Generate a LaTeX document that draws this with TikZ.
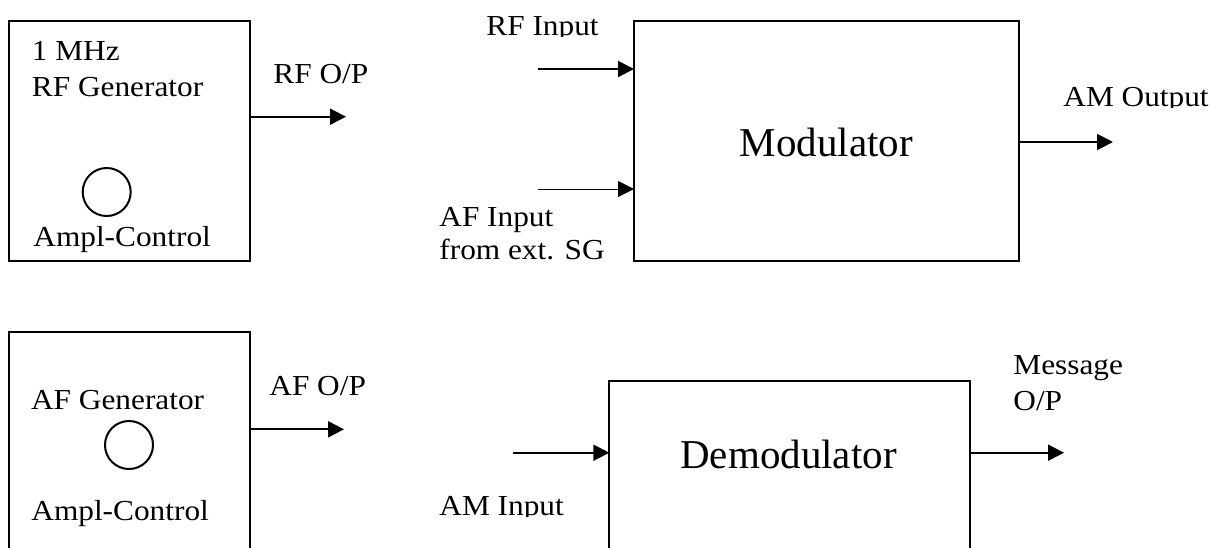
\documentclass[tikz,border=0pt]{standalone}
\usepackage{fontspec}
\setmainfont{Liberation Serif}
\newfontfamily\widefont[FakeStretch=1.08]{Liberation Serif}
\usepackage{tikz}
\usetikzlibrary{arrows.meta,positioning}

\begin{document}
\begin{tikzpicture}[x=0.5pt, y=-0.5pt,
    block/.style={draw, line width=1pt, inner sep=0pt, outer sep=0pt},
    lbl/.style={anchor=base west, inner sep=0pt, font=\widefont\fontsize{14.5pt}{17pt}\selectfont},
    title/.style={anchor=base, inner sep=0pt, font=\fontsize{20.5pt}{24pt}\selectfont},
    knob/.style={circle, draw, line width=1pt, minimum size=24pt, inner sep=0pt},
    sig/.style={-{Triangle[length=8pt,width=8pt]}, line width=1pt},
    thinsig/.style={sig, line width=0.5pt}
]
    \clip (0,0) rectangle (1220,547);

    % RF generator
    \node[block, minimum width=120.5pt, minimum height=120pt] (rfgen) at (129.5,141) {};
    \node[lbl] (rfmhz) at (31.5,60.5) {1 MHz};
    \node[lbl] (rfname) at (31.5,96) {RF Generator};
    \node[knob] (rfknob) at (106.7,192) {};
    \node[lbl] (rfampl) at (33,246) {Ampl-Control};
    \coordinate (rfop) at (346,116.7);
    \draw[sig] (rfop -| rfgen.east) -- (rfop);
    \node[lbl] (rfoplbl) at (273,83) {RF O/P};

    % Modulator
    \node[block, minimum width=192.5pt, minimum height=120pt] (mod) at (826.5,141) {};
    \node[title] (modname) at (826.5,156.7) {Modulator};
    \coordinate (rfin) at (538,69);
    \coordinate (afin) at (538,189);
    \coordinate (amout) at (1113,142);
    \draw[sig] (rfin) -- (rfin -| mod.west);
    \draw[thinsig] (afin) -- (afin -| mod.west);
    \draw[sig] (amout -| mod.east) -- (amout);
    \begin{scope}
        \clip (470,0) rectangle (630,36);
        \node[lbl] (rfinlbl) at (486,35) {RF Input};
    \end{scope}
    \node[lbl] (afinlbl) at (439,226) {AF Input};
    \node[lbl] (afinsrc) at (439,259.3) {from ext. SG};
    \begin{scope}
        \clip (1050,60) rectangle (1220,107.5);
        \node[lbl] (amoutlbl) at (1063,106.5) {AM Output};
    \end{scope}

    % AF generator
    \node[block, minimum width=120.5pt, minimum height=120pt] (afgen) at (129.5,452.3) {};
    \node[lbl] (afname) at (30.7,409) {AF Generator};
    \node[knob] (afknob) at (129,445) {};
    \node[lbl] (afampl) at (31,520.7) {Ampl-Control};
    \coordinate (afop) at (344,429.3);
    \draw[sig] (afop -| afgen.east) -- (afop);
    \node[lbl] (afoplbl) at (269,395.7) {AF O/P};

    % Demodulator
    \node[block, minimum width=180.35pt, minimum height=120pt] (demod) at (789.7,500.7) {};
    \node[title] (demodname) at (788.5,468) {Demodulator};
    \coordinate (amin) at (513,452.7);
    \coordinate (msgop) at (1064,452.7);
    \draw[sig] (amin) -- (amin -| demod.west);
    \draw[sig] (msgop -| demod.east) -- (msgop);
    \begin{scope}
        \clip (430,470) rectangle (600,516);
        \node[lbl] (aminlbl) at (439,515) {AM Input};
    \end{scope}
    \node[lbl] (msglbl) at (1013,374) {Message};
    \node[lbl] (msgoplbl) at (1013,410.7) {O/P};
\end{tikzpicture}
\end{document}
